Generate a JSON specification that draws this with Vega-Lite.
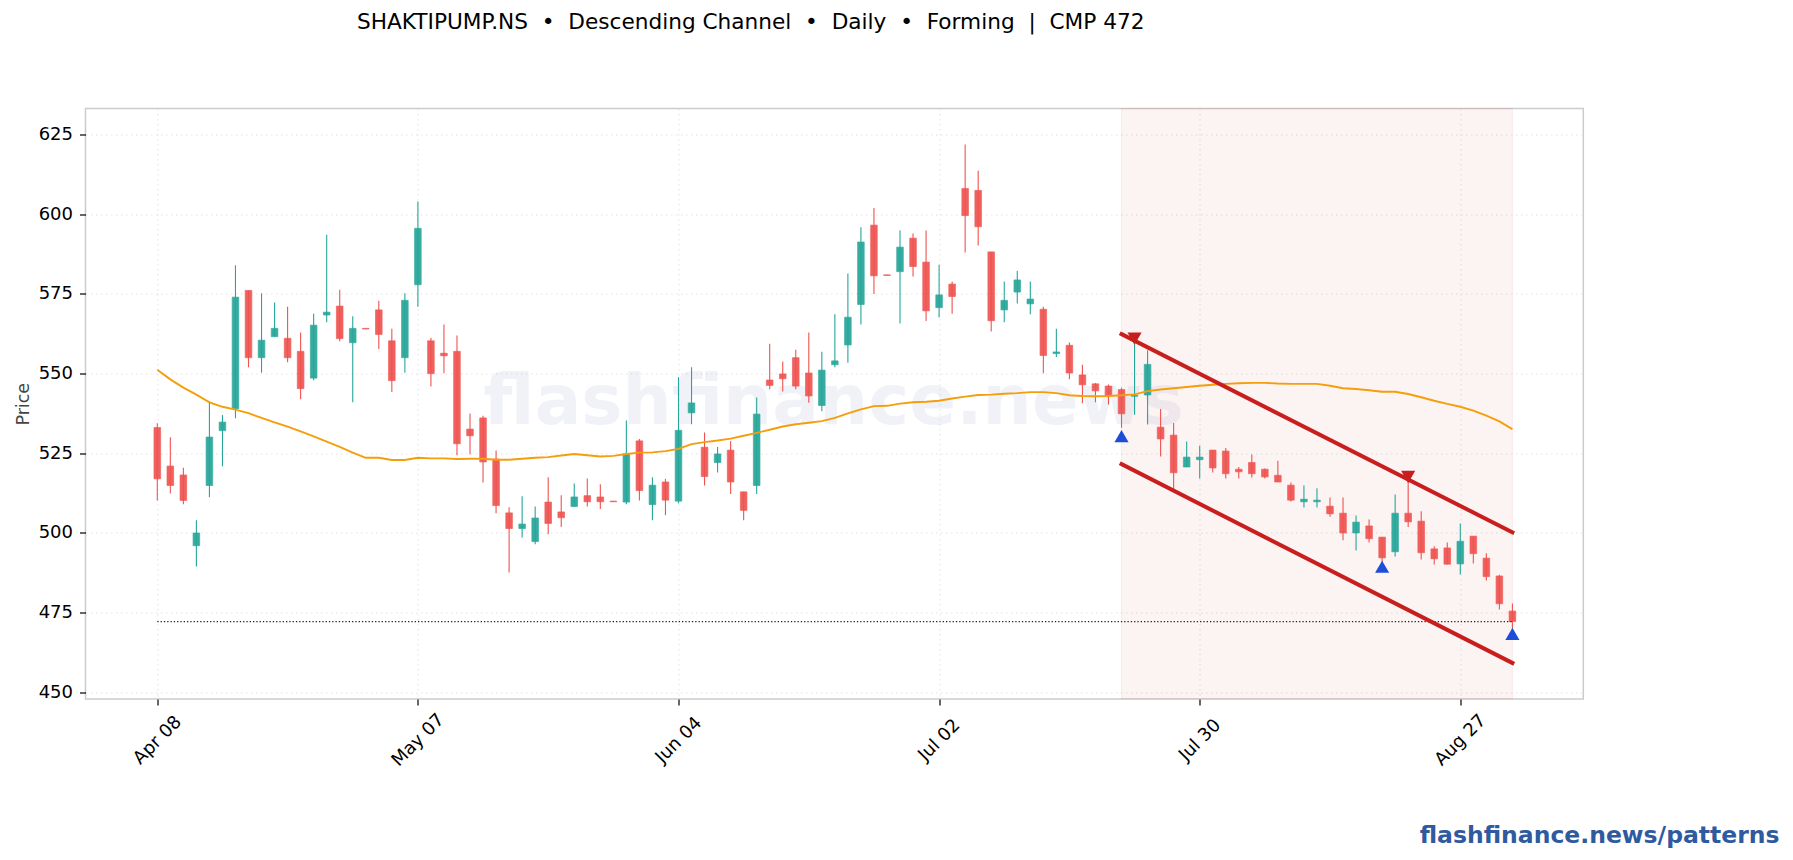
{"$schema":"https://vega.github.io/schema/vega-lite/v6.json","width":1497.8,"height":590.5,"autosize":{"type":"none"},"padding":{"left":85.5,"top":108.5,"right":209.7,"bottom":161},"background":"white",
"title":{"text":"SHAKTIPUMP.NS\u00a0 •\u00a0 Descending Channel\u00a0 •\u00a0 Daily\u00a0 •\u00a0 Forming\u00a0 |\u00a0 CMP 472","anchor":"start","frame":"group","dx":271.5,"offset":52,"baseline":"bottom","font":"DejaVu Sans","fontSize":21.65,"fontWeight":"normal","color":"#000000"},
"config":{"view":{"stroke":"#cccccc","strokeWidth":1.5},"font":"DejaVu Sans"},
"datasets":{"candles":[
{"i":0,"o":533.1,"h":534.4,"l":510.2,"c":517.0,"sma":551.2},
{"i":1,"o":521.0,"h":530.0,"l":512.4,"c":514.9,"sma":548.2},
{"i":2,"o":518.2,"h":520.5,"l":509.0,"c":510.2,"sma":545.6},
{"i":3,"o":496.0,"h":504.0,"l":489.5,"c":500.0,"sma":543.4},
{"i":4,"o":514.9,"h":541.3,"l":511.2,"c":530.1,"sma":541.0},
{"i":5,"o":532.1,"h":537.0,"l":520.9,"c":534.8,"sma":539.6},
{"i":6,"o":539.0,"h":584.0,"l":536.0,"c":574.0,"sma":538.7},
{"i":7,"o":576.1,"h":576.1,"l":552.0,"c":555.0,"sma":537.6},
{"i":8,"o":555.0,"h":575.2,"l":550.3,"c":560.5,"sma":536.1},
{"i":9,"o":561.6,"h":572.3,"l":561.6,"c":564.2,"sma":534.7},
{"i":10,"o":561.1,"h":571.0,"l":553.6,"c":555.0,"sma":533.4},
{"i":11,"o":557.0,"h":562.9,"l":542.0,"c":545.3,"sma":531.9},
{"i":12,"o":548.6,"h":568.8,"l":547.9,"c":565.2,"sma":530.3},
{"i":13,"o":568.4,"h":593.6,"l":566.1,"c":569.3,"sma":528.7},
{"i":14,"o":571.2,"h":576.3,"l":560.2,"c":561.0,"sma":527.0},
{"i":15,"o":559.7,"h":568.0,"l":541.0,"c":564.2,"sma":525.2},
{"i":16,"o":564.2,"h":564.2,"l":564.0,"c":564.0,"sma":523.6},
{"i":17,"o":570.0,"h":572.9,"l":557.7,"c":562.3,"sma":523.6},
{"i":18,"o":560.3,"h":564.1,"l":544.2,"c":547.8,"sma":522.9},
{"i":19,"o":555.0,"h":575.2,"l":550.3,"c":573.0,"sma":522.9},
{"i":20,"o":577.9,"h":604.0,"l":571.0,"c":595.6,"sma":523.6},
{"i":21,"o":560.3,"h":561.3,"l":546.0,"c":550.0,"sma":523.4},
{"i":22,"o":556.4,"h":565.4,"l":550.1,"c":555.6,"sma":523.4},
{"i":23,"o":557.0,"h":562.0,"l":524.4,"c":528.0,"sma":523.2},
{"i":24,"o":532.6,"h":537.5,"l":524.7,"c":530.5,"sma":523.3},
{"i":25,"o":536.1,"h":536.8,"l":515.8,"c":522.3,"sma":523.3},
{"i":26,"o":523.2,"h":525.9,"l":506.2,"c":508.6,"sma":523.0},
{"i":27,"o":506.3,"h":508.1,"l":487.6,"c":501.4,"sma":523.0},
{"i":28,"o":501.4,"h":511.5,"l":498.6,"c":502.8,"sma":523.3},
{"i":29,"o":497.3,"h":508.3,"l":496.5,"c":504.7,"sma":523.6},
{"i":30,"o":509.7,"h":517.5,"l":499.6,"c":503.0,"sma":523.8},
{"i":31,"o":506.6,"h":511.8,"l":501.9,"c":504.8,"sma":524.3},
{"i":32,"o":508.3,"h":515.5,"l":508.3,"c":511.3,"sma":524.8},
{"i":33,"o":511.7,"h":517.1,"l":508.3,"c":509.8,"sma":524.4},
{"i":34,"o":511.3,"h":515.3,"l":507.5,"c":509.8,"sma":524.0},
{"i":35,"o":510.0,"h":510.0,"l":509.8,"c":509.8,"sma":524.2},
{"i":36,"o":509.7,"h":535.3,"l":509.0,"c":524.8,"sma":524.8},
{"i":37,"o":528.9,"h":529.5,"l":510.2,"c":513.3,"sma":525.2},
{"i":38,"o":508.9,"h":517.5,"l":504.0,"c":515.0,"sma":525.3},
{"i":39,"o":516.0,"h":517.0,"l":505.6,"c":510.3,"sma":525.7},
{"i":40,"o":510.0,"h":548.9,"l":509.3,"c":532.2,"sma":526.4},
{"i":41,"o":537.7,"h":552.0,"l":534.1,"c":540.8,"sma":527.9},
{"i":42,"o":526.9,"h":531.5,"l":514.9,"c":517.7,"sma":528.5},
{"i":43,"o":522.1,"h":527.0,"l":519.0,"c":524.8,"sma":529.0},
{"i":44,"o":526.0,"h":528.9,"l":512.2,"c":516.0,"sma":529.6},
{"i":45,"o":512.9,"h":512.9,"l":504.0,"c":507.1,"sma":530.5},
{"i":46,"o":514.9,"h":542.5,"l":512.2,"c":537.3,"sma":531.4},
{"i":47,"o":548.0,"h":559.4,"l":545.1,"c":546.3,"sma":532.4},
{"i":48,"o":549.9,"h":553.8,"l":544.4,"c":548.4,"sma":533.4},
{"i":49,"o":555.0,"h":557.5,"l":545.1,"c":546.1,"sma":534.1},
{"i":50,"o":550.2,"h":562.9,"l":540.9,"c":543.0,"sma":534.6},
{"i":51,"o":540.0,"h":556.9,"l":538.2,"c":551.1,"sma":535.1},
{"i":52,"o":552.8,"h":568.6,"l":552.0,"c":554.0,"sma":536.1},
{"i":53,"o":559.0,"h":581.4,"l":553.4,"c":567.7,"sma":537.5},
{"i":54,"o":571.7,"h":595.9,"l":565.4,"c":591.3,"sma":538.8},
{"i":55,"o":596.6,"h":602.0,"l":575.0,"c":580.7,"sma":539.8},
{"i":56,"o":581.0,"h":581.0,"l":580.8,"c":580.8,"sma":539.9},
{"i":57,"o":582.0,"h":594.9,"l":565.7,"c":589.7,"sma":540.6},
{"i":58,"o":592.5,"h":594.0,"l":580.5,"c":583.6,"sma":541.0},
{"i":59,"o":585.0,"h":594.9,"l":566.5,"c":569.7,"sma":541.2},
{"i":60,"o":570.7,"h":584.2,"l":567.6,"c":574.7,"sma":541.5},
{"i":61,"o":578.1,"h":578.9,"l":568.8,"c":574.2,"sma":542.2},
{"i":62,"o":608.1,"h":621.9,"l":588.0,"c":599.6,"sma":542.8},
{"i":63,"o":607.5,"h":613.7,"l":590.2,"c":596.1,"sma":543.3},
{"i":64,"o":588.2,"h":588.2,"l":563.2,"c":566.6,"sma":543.4},
{"i":65,"o":570.0,"h":578.9,"l":566.1,"c":573.0,"sma":543.7},
{"i":66,"o":575.6,"h":582.3,"l":572.0,"c":579.4,"sma":543.9},
{"i":67,"o":571.9,"h":578.9,"l":568.6,"c":573.4,"sma":544.2},
{"i":68,"o":570.2,"h":571.0,"l":550.1,"c":555.7,"sma":544.2},
{"i":69,"o":556.3,"h":564.1,"l":555.2,"c":556.8,"sma":543.9},
{"i":70,"o":558.9,"h":559.8,"l":548.2,"c":550.2,"sma":543.2},
{"i":71,"o":549.6,"h":552.8,"l":540.7,"c":546.5,"sma":543.0},
{"i":72,"o":546.8,"h":547.0,"l":541.0,"c":544.6,"sma":542.9},
{"i":73,"o":546.1,"h":546.6,"l":540.3,"c":543.0,"sma":543.0},
{"i":74,"o":545.0,"h":545.6,"l":533.0,"c":537.4,"sma":543.2},
{"i":75,"o":542.9,"h":559.4,"l":537.1,"c":543.2,"sma":543.5},
{"i":76,"o":543.3,"h":557.3,"l":534.0,"c":552.9,"sma":544.5},
{"i":77,"o":533.2,"h":538.9,"l":524.0,"c":529.5,"sma":545.0},
{"i":78,"o":530.7,"h":534.5,"l":513.4,"c":518.9,"sma":545.4},
{"i":79,"o":520.7,"h":528.7,"l":520.7,"c":523.8,"sma":545.8},
{"i":80,"o":523.0,"h":527.4,"l":517.1,"c":523.8,"sma":546.2},
{"i":81,"o":526.0,"h":526.0,"l":519.0,"c":520.4,"sma":546.5},
{"i":82,"o":525.7,"h":526.7,"l":517.1,"c":518.6,"sma":546.8},
{"i":83,"o":520.0,"h":520.7,"l":517.1,"c":519.2,"sma":547.0},
{"i":84,"o":522.1,"h":524.6,"l":517.4,"c":518.6,"sma":547.1},
{"i":85,"o":520.0,"h":520.2,"l":517.1,"c":517.6,"sma":547.1},
{"i":86,"o":518.1,"h":522.7,"l":516.0,"c":516.0,"sma":546.9},
{"i":87,"o":515.0,"h":515.8,"l":509.9,"c":510.3,"sma":546.8},
{"i":88,"o":509.8,"h":514.9,"l":508.0,"c":510.6,"sma":546.8},
{"i":89,"o":509.8,"h":514.0,"l":508.0,"c":510.3,"sma":546.8},
{"i":90,"o":508.4,"h":511.1,"l":505.1,"c":506.0,"sma":546.2},
{"i":91,"o":506.2,"h":511.1,"l":497.7,"c":500.0,"sma":545.4},
{"i":92,"o":500.0,"h":505.5,"l":494.5,"c":503.4,"sma":545.2},
{"i":93,"o":502.2,"h":504.2,"l":497.0,"c":498.2,"sma":544.8},
{"i":94,"o":498.7,"h":498.7,"l":490.4,"c":492.2,"sma":544.3},
{"i":95,"o":494.1,"h":512.1,"l":492.6,"c":506.2,"sma":544.3},
{"i":96,"o":506.2,"h":517.0,"l":501.9,"c":503.5,"sma":543.6},
{"i":97,"o":503.7,"h":506.8,"l":491.7,"c":493.8,"sma":542.6},
{"i":98,"o":495.0,"h":495.8,"l":490.1,"c":491.9,"sma":541.5},
{"i":99,"o":495.3,"h":497.0,"l":490.1,"c":490.2,"sma":540.5},
{"i":100,"o":490.3,"h":503.0,"l":487.0,"c":497.4,"sma":539.6},
{"i":101,"o":499.0,"h":499.0,"l":490.4,"c":493.5,"sma":538.4},
{"i":102,"o":492.1,"h":493.6,"l":485.1,"c":486.3,"sma":536.8},
{"i":103,"o":486.5,"h":486.9,"l":476.0,"c":477.8,"sma":535.0},
{"i":104,"o":475.5,"h":477.9,"l":470.0,"c":472.2,"sma":532.6}
],
"zone":[{"i":74,"end":104}],
"channel":[{"i":74,"upper":562.4,"lower":521.6},{"i":104,"upper":500.2,"lower":459.2}],
"cmp":[{"i":0,"p":472.2},{"i":104,"p":472.2}],
"lows":[{"i":74,"p":530.4},{"i":94,"p":489.4},{"i":104,"p":468.3}],
"highs":[{"i":75,"p":561},{"i":96,"p":517.6}],
"watermark":[{"i":51.9,"p":540.8,"label":"flashfinance.news"}],
"footer":[{"i":124.5,"p":402.7,"label":"flashfinance.news/patterns"}]},
"encoding":{"x":{"field":"i","type":"quantitative","title":null,"scale":{"domain":[-5.51,109.44],"nice":false,"zero":false,"padding":0},"axis":{"values":[0,20,40,60,80,100],"labelExpr":"['Apr 08','May 07','Jun 04','Jul 02','Jul 30','Aug 27'][datum.value/20]","labelAngle":-45,"labelAlign":"center","labelBaseline":"middle","labelPadding":35,"labelFontSize":18,"labelColor":"#000000","labelFont":"DejaVu Sans","tickColor":"#000000","tickSize":6,"tickWidth":1.2,"domain":false,"grid":true,"gridColor":"#e2e2e2","gridDash":[1.5,3.5],"gridWidth":1,"labelFlush":false,"labelOverlap":false}}},
"layer":[
{"data":{"name":"zone"},"mark":{"type":"rect","fill":"#c81e1e","fillOpacity":0.055,"stroke":"#c81e1e","strokeOpacity":0.06,"strokeWidth":1.2},"encoding":{"x2":{"field":"end"}}},
{"data":{"name":"watermark"},"mark":{"type":"text","font":"DejaVu Sans","fontWeight":"bold","fontSize":69.2,"color":"#1e3a8a","opacity":0.06,"align":"center","baseline":"middle"},"encoding":{"y":{"field":"p","type":"quantitative","scale":{"domain":[447.9,633.2],"nice":false,"zero":false}},"text":{"field":"label"}}},
{"data":{"name":"candles"},"mark":{"type":"rule","strokeWidth":1.1},"encoding":{"y":{"field":"l","type":"quantitative","title":"Price","scale":{"domain":[447.9,633.2],"nice":false,"zero":false},"axis":{"values":[450,475,500,525,550,575,600,625],"title":"Price","titleFontSize":17.5,"titleFont":"DejaVu Sans","titleFontWeight":"normal","titleColor":"#444444","titlePadding":6,"labelFontSize":18,"labelColor":"#000000","labelFont":"DejaVu Sans","labelPadding":7,"tickColor":"#000000","tickSize":6,"tickWidth":1.2,"domain":false,"grid":true,"gridColor":"#e2e2e2","gridDash":[1.5,3.5],"gridWidth":1}},"y2":{"field":"h"},"color":{"condition":{"test":"datum.c>=datum.o","value":"#26a69a"},"value":"#ef5350"}}},
{"data":{"name":"candles"},"mark":{"type":"bar","size":6.6,"orient":"vertical","strokeWidth":0.7,"opacity":0.92},"encoding":{"y":{"field":"o","type":"quantitative","scale":{"domain":[447.9,633.2],"nice":false,"zero":false}},"y2":{"field":"c"},"color":{"condition":{"test":"datum.c>=datum.o","value":"#26a69a"},"value":"#ef5350"},"stroke":{"condition":{"test":"datum.c>=datum.o","value":"#26a69a"},"value":"#ef5350"}}},
{"data":{"name":"candles"},"mark":{"type":"line","color":"#f59e0b","strokeWidth":1.9},"encoding":{"y":{"field":"sma","type":"quantitative","scale":{"domain":[447.9,633.2],"nice":false,"zero":false}}}},
{"data":{"name":"cmp"},"mark":{"type":"line","color":"#222222","strokeWidth":1.2,"strokeDash":[1.3,2]},"encoding":{"y":{"field":"p","type":"quantitative","scale":{"domain":[447.9,633.2],"nice":false,"zero":false}}}},
{"data":{"name":"channel"},"mark":{"type":"line","color":"#c81e1e","strokeWidth":4,"strokeCap":"square"},"encoding":{"y":{"field":"upper","type":"quantitative","scale":{"domain":[447.9,633.2],"nice":false,"zero":false}}}},
{"data":{"name":"channel"},"mark":{"type":"line","color":"#c81e1e","strokeWidth":4,"strokeCap":"square"},"encoding":{"y":{"field":"lower","type":"quantitative","scale":{"domain":[447.9,633.2],"nice":false,"zero":false}}}},
{"data":{"name":"lows"},"mark":{"type":"point","shape":"triangle-up","filled":true,"color":"#1d4ed8","size":200,"opacity":1},"encoding":{"y":{"field":"p","type":"quantitative","scale":{"domain":[447.9,633.2],"nice":false,"zero":false}}}},
{"data":{"name":"highs"},"mark":{"type":"point","shape":"triangle-down","filled":true,"color":"#c81e1e","size":200,"opacity":1},"encoding":{"y":{"field":"p","type":"quantitative","scale":{"domain":[447.9,633.2],"nice":false,"zero":false}}}},
{"data":{"name":"footer"},"mark":{"type":"text","font":"DejaVu Sans","fontWeight":"bold","fontSize":23.5,"color":"#2f5aa0","align":"right","baseline":"alphabetic"},"encoding":{"y":{"field":"p","type":"quantitative","scale":{"domain":[447.9,633.2],"nice":false,"zero":false}},"text":{"field":"label"}}}
]}
